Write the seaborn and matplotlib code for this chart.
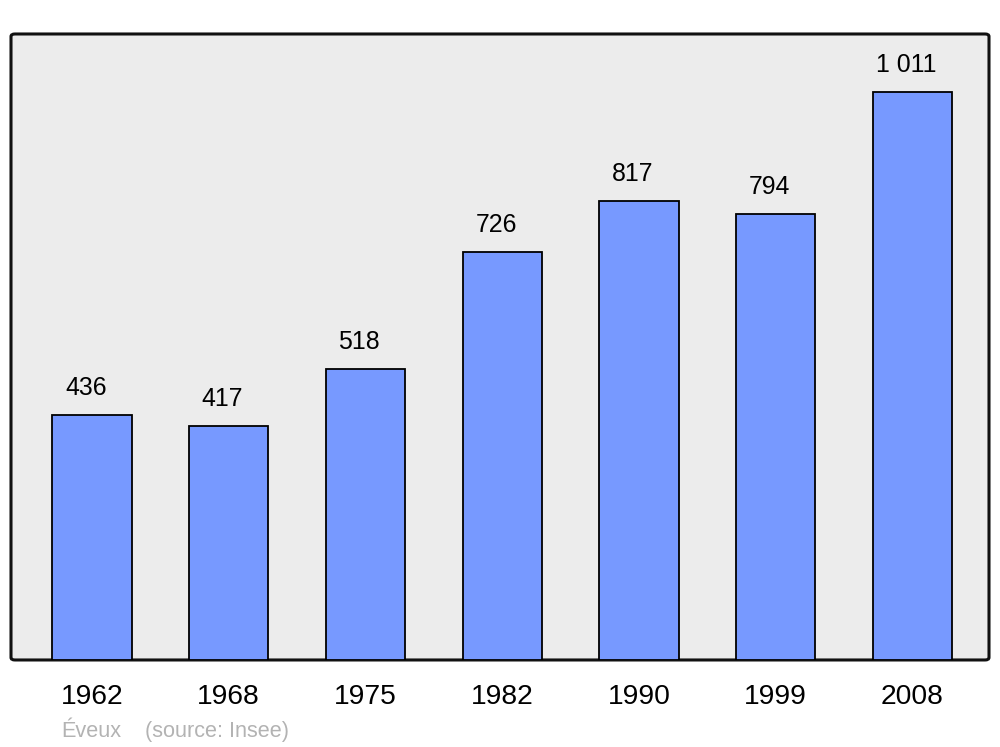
import matplotlib
matplotlib.use("Agg")
import matplotlib.pyplot as plt
from matplotlib.patches import FancyBboxPatch
import pandas as pd
import seaborn as sns

# Population data (Éveux, source: Insee)
years = ["1962", "1968", "1975", "1982", "1990", "1999", "2008"]
population = [436, 417, 518, 726, 817, 794, 1011]
value_labels = ["436", "417", "518", "726", "817", "794", "1 011"]

BAR_COLOR = "#7799ff"
BG_COLOR = "#ececec"

sns.set_theme(style="white")
plt.rcParams["font.family"] = ["Liberation Sans", "DejaVu Sans"]

df = pd.DataFrame({"year": years, "population": population})

fig = plt.figure(figsize=(10, 7.47), dpi=100)
ax = fig.add_axes([0.011, 0.1165, 0.978, 0.838])
ax.set_facecolor("none")

# rounded grey frame
frame = FancyBboxPatch((0, 0), 1, 1, boxstyle="round,pad=0,rounding_size=0.004",
                       transform=ax.transAxes, facecolor=BG_COLOR,
                       edgecolor="#111111", linewidth=2.2, zorder=0, clip_on=False)
ax.add_patch(frame)

sns.barplot(data=df, x="year", y="population", color=BAR_COLOR, width=0.58,
            edgecolor="black", linewidth=1.3, saturation=1, ax=ax, zorder=2)

for i, (v, lab) in enumerate(zip(population, value_labels)):
    ax.annotate(lab, (i, v), xytext=(-4.5, 19.5), textcoords="offset points",
                ha="center", va="center", fontsize=17.9, color="black")

ax.set_xlim(-0.592, 6.559)
ax.set_ylim(0, 1114)
ax.set_yticks([])
ax.set_xlabel("")
ax.set_ylabel("")
ax.tick_params(axis="x", length=0, pad=17.5, labelsize=20.3, labelcolor="black")
for s in ax.spines.values():
    s.set_visible(False)

fig.text(0.061, 0.021, "Éveux", color="#b3b3b3", fontsize=15.6, ha="left", va="center")
fig.text(0.145, 0.021, "(source: Insee)", color="#b3b3b3", fontsize=15.6, ha="left", va="center")

fig.savefig("out.png", dpi=100, facecolor="white")
